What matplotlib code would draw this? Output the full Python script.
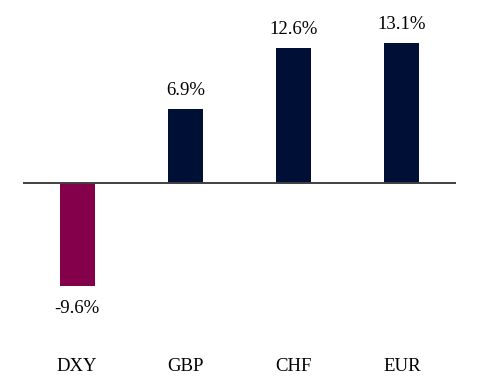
import matplotlib
matplotlib.use('Agg')
import matplotlib.pyplot as plt
import numpy as np

# Currency moves (%)
currencies = ['DXY', 'GBP', 'CHF', 'EUR']
changes = [-9.6, 6.9, 12.6, 13.1]
labels = ['-9.6%', '6.9%', '12.6%', '13.1%']
colors = ['#85004B', '#000F35', '#000F35', '#000F35']

plt.rcParams['font.family'] = ['Liberation Serif', 'DejaVu Serif']

fig = plt.figure(figsize=(4.8, 3.89), dpi=100)
# axes spans x px 23..456, y px 10..330
ax = fig.add_axes([23/480, 1 - 330/389, (456-23)/480, 320/389])

x = np.arange(len(currencies))
ax.bar(x, changes, width=0.325, color=colors, zorder=2)
ax.axhline(0, color='#404040', lw=1.4, zorder=3)

for xi, v, lab in zip(x, changes, labels):
    if v >= 0:
        ax.annotate(lab, (xi, v), xytext=(0, 7), textcoords='offset points',
                    ha='center', va='bottom', fontsize=13.5)
    else:
        ax.annotate(lab, (xi, v), xytext=(0, -10), textcoords='offset points',
                    ha='center', va='top', fontsize=13.5)

ax.set_xlim(-0.5, 3.5)
ax.set_ylim(-(330-183)/10.72, (183-10)/10.72)
ax.set_xticks(x)
ax.set_xticklabels(currencies, fontsize=13.5)
ax.tick_params(axis='x', length=0, pad=20)
ax.set_yticks([])
for s in ax.spines.values():
    s.set_visible(False)

fig.savefig('out.png', dpi=100)
